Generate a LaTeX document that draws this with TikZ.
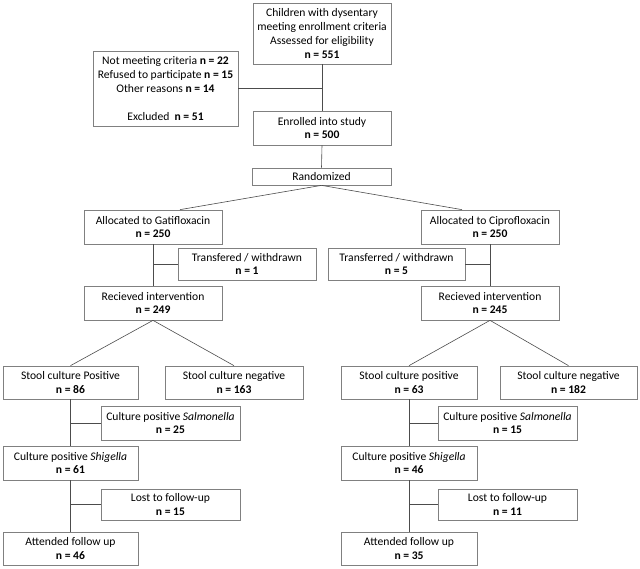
\documentclass[tikz,border=0pt]{standalone}
\usepackage{fontspec}
\setmainfont{Carlito}
\usepackage{tikz}
\usetikzlibrary{positioning, calc}
\definecolor{boxGray}{gray}{0.5}
\definecolor{lineGray}{gray}{0.3}
\newcommand{\nval}[1]{\textbf{n = #1}}

\begin{document}
\begin{tikzpicture}[x=1pt, y=-1pt,
    box/.style={draw=boxGray, line width=0.7pt, align=center, inner sep=0pt,
        minimum width=138pt, minimum height=34pt,
        font=\fontsize{11.6}{13.8}\selectfont},
    link/.style={draw=lineGray, line width=0.6pt}]
    \useasboundingbox (0,0) rectangle (640,568);

    % Enrollment
    \node[box, minimum height=61pt] (top) at (322,33.5) {Children with dysentary\\meeting enrollment criteria\\Assessed for eligibility\\\nval{551}};
    \node[box, minimum width=145pt, minimum height=75pt] (excl) at (165.5,88.5) {Not meeting criteria \nval{22}\\Refused to participate \nval{15}\\Other reasons \nval{14}\\[13.8pt]Excluded~ \nval{51}};
    \node[box] (enrol) at (322,128) {Enrolled into study\\\nval{500}};
    \node[box, minimum width=139pt, minimum height=17pt] (rand) at (321.5,176.5) {Randomized};

    % Allocation
    \node[box] (gati) at (153,227) {Allocated to Gatifloxacin\\\nval{250}};
    \node[box] (cipro) at (490,227) {Allocated to Ciprofloxacin\\\nval{250}};
    \node[box, minimum height=32pt] (transL) at (247,264) {Transfered / withdrawn\\\nval{1}};
    \node[box, minimum width=137pt, minimum height=32pt] (transR) at (396.5,264) {Transferred / withdrawn\\\nval{5}};
    \node[box] (recvL) at (153,303) {Recieved intervention\\\nval{249}};
    \node[box] (recvR) at (490,303) {Recieved intervention\\\nval{245}};

    % Culture results
    \node[box, minimum width=135pt, minimum height=33pt] (posL) at (70.5,382.5) {Stool culture Positive\\\nval{86}};
    \node[box, minimum height=33pt] (negL) at (234,382.5) {Stool culture negative\\\nval{163}};
    \node[box, minimum width=136pt, minimum height=33pt] (posR) at (409,382.5) {Stool culture positive\\\nval{63}};
    \node[box, minimum width=137pt, minimum height=33pt] (negR) at (568.5,382.5) {Stool culture negative\\\nval{182}};
    \node[box, minimum width=139pt] (salmL) at (170.5,423) {Culture positive \textit{Salmonella}\\\nval{25}};
    \node[box, minimum width=139pt] (salmR) at (507.5,423) {Culture positive \textit{Salmonella}\\\nval{15}};
    \node[box, minimum width=135pt] (shigL) at (70.5,463) {Culture positive \textit{Shigella}\\\nval{61}};
    \node[box, minimum width=136pt] (shigR) at (409,463) {Culture positive \textit{Shigella}\\\nval{46}};
    \node[box, minimum width=139pt, minimum height=31pt] (lostL) at (170.5,504.5) {Lost to follow-up\\\nval{15}};
    \node[box, minimum width=139pt, minimum height=31pt] (lostR) at (507.5,504.5) {Lost to follow-up\\\nval{11}};
    \node[box, minimum width=135pt, minimum height=33pt] (attL) at (70.5,548.5) {Attended follow up\\\nval{46}};
    \node[box, minimum width=136pt, minimum height=33pt] (attR) at (409,548.5) {Attended follow up\\\nval{35}};

    % Connectors
    \draw[link] (top.south) -- (enrol.north);
    \draw[link] (excl.east) -- (excl.east -| top.south);
    \draw[link] (enrol.south) -- (rand.north);
    \draw[link] (rand.south) -- ([xshift=27pt]gati.north);
    \draw[link] (rand.south) -- ([xshift=-28pt]cipro.north);
    \draw[link] (gati.south) -- (recvL.north);
    \draw[link] (transL.west) -- (transL.west -| gati.south);
    \draw[link] (cipro.south) -- (recvR.north);
    \draw[link] (transR.east) -- (transR.east -| cipro.south);
    \draw[link] (recvL.south) -- (posL.north);
    \draw[link] (recvL.south) -- (negL.north);
    \draw[link] (recvR.south) -- (posR.north);
    \draw[link] (recvR.south) -- (negR.north);
    \draw[link] (posL.south) -- (shigL.north);
    \draw[link] (salmL.west) -- (salmL.west -| posL.south);
    \draw[link] (posR.south) -- (shigR.north);
    \draw[link] (salmR.west) -- (salmR.west -| posR.south);
    \draw[link] (shigL.south) -- (attL.north);
    \draw[link] (lostL.west) -- (lostL.west -| shigL.south);
    \draw[link] (shigR.south) -- (attR.north);
    \draw[link] (lostR.west) -- (lostR.west -| shigR.south);
\end{tikzpicture}
\end{document}
